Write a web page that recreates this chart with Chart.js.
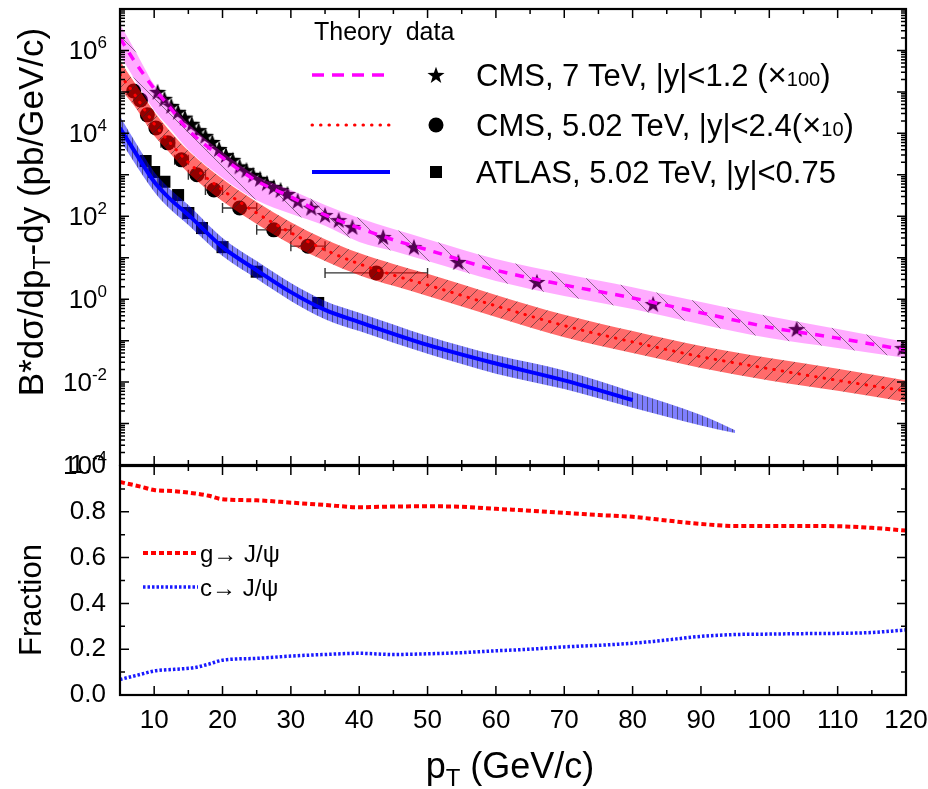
<!DOCTYPE html>
<html>
<head>
<meta charset="utf-8">
<script src="https://cdn.jsdelivr.net/npm/chart.js@4.4.0/dist/chart.umd.min.js"></script>
<style>
body { margin: 0; background: #fff; }
#wrap { position: relative; width: 928px; height: 789px; }
canvas { position: absolute; left: 0; }
</style>
</head>
<body>
<div id="wrap">
<canvas id="top" width="928" height="480" style="top:0"></canvas>
<canvas id="bot" width="928" height="339" style="top:450px"></canvas>
</div>
<script>
// theory bands / central curves (top panel)
const ptTheory = [5, 7, 10, 12, 15, 20, 25, 30, 35, 40, 45, 50, 60, 70, 80, 90, 100, 110, 120];
const cms7Theory = [2.0e6, 5.9e5, 1.2e5, 4.9e4, 1.2e4, 2.6e3, 710, 295, 108, 52, 27, 15.5, 5.0, 2.2, 1.07, 0.47, 0.21, 0.115, 0.059];
const cms7Up = [4.2e6, 1.15e6, 1.5e5, 6.5e4, 1.7e4, 3.5e3, 940, 430, 187, 91, 49, 28, 9.3, 4.1, 1.95, 0.85, 0.39, 0.19, 0.093];
const cms7Lo = [7.8e5, 2.2e5, 3.6e4, 1.5e4, 4.0e3, 840, 245, 115, 59, 24, 14.5, 8.3, 2.75, 1.2, 0.58, 0.25, 0.115, 0.066, 0.038];
const cms502Theory = [2.6e5, 9.3e4, 1.7e4, 6.8e3, 2.0e3, 430, 120, 40, 15.5, 7.1, 3.8, 2.2, 0.69, 0.23, 0.093, 0.041, 0.021, 0.011, 0.0061];
const cms502Up = [5.6e5, 1.8e5, 3.3e4, 1.3e4, 3.8e3, 790, 220, 72, 28, 13, 7.1, 4.1, 1.27, 0.42, 0.17, 0.074, 0.038, 0.021, 0.011];
const cms502Lo = [1.2e5, 4.8e4, 8.7e3, 3.8e3, 1.1e3, 230, 65, 21, 8.3, 3.8, 2.1, 1.2, 0.37, 0.12, 0.050, 0.022, 0.011, 0.0062, 0.0033];
const ptAtlasTheory = [5, 7, 10, 12, 15, 20, 25, 30, 35, 40, 50, 60, 70, 80];
const atlasTheory = [1.35e4, 4.0e3, 680, 295, 108, 18, 5.0, 1.48, 0.55, 0.28, 0.079, 0.028, 0.011, 0.0037];
const ptAtlasBand = [5, 7, 10, 12, 15, 20, 25, 30, 35, 40, 50, 60, 70, 80, 90, 95];
const atlasUp = [2.6e4, 7.2e3, 1.17e3, 510, 187, 30, 8.3, 2.45, 0.91, 0.47, 0.13, 0.045, 0.019, 0.0058, 0.0016, 0.00069];
const atlasLo = [6.9e3, 2.1e3, 390, 167, 62, 11, 3.1, 0.91, 0.33, 0.17, 0.048, 0.016, 0.0068, 0.0024, 0.0009, 0.00059];

// measured points
const cms7DataPt = [10.5, 11.5, 12.5, 13.5, 14.5, 15.5, 16.5, 17.5, 18.5, 19.5, 20.5, 21.5, 22.5, 23.5, 24.5, 25.5, 26.5, 27.5, 28.5, 29.5, 31, 33, 35, 37, 39, 43.5, 48, 54.5, 66, 83, 104, 119.5];
const cms7Data = [1.0e5, 6.8e4, 4.6e4, 3.3e4, 2.4e4, 1.7e4, 1.2e4, 8.7e3, 6.2e3, 4.2e3, 3.0e3, 2.3e3, 1.6e3, 1.3e3, 1.0e3, 800, 630, 510, 430, 345, 235, 160, 107, 81, 55, 31.6, 18, 7.9, 2.6, 0.76, 0.19, 0.066];
const cms502DataPt = [7, 8, 9, 10.25, 12, 14, 16.25, 18.75, 22.5, 27.5, 32.5, 42.5];
const cms502BinLo = [6.5, 7.5, 8.5, 9.5, 11, 13, 15, 17.5, 20, 25, 30, 35];
const cms502BinHi = [7.5, 8.5, 9.5, 11, 13, 15, 17.5, 20, 25, 30, 35, 50];
const cms502Data = [1.05e5, 6.4e4, 2.8e4, 1.35e4, 5.9e3, 2.3e3, 1.0e3, 430, 158, 47, 19, 4.3];
const atlasDataPt = [8.75, 10, 11.5, 13.5, 15, 17, 20, 25, 34];
const atlasData = [2150, 1170, 680, 325, 120, 52, 18, 4.6, 0.81];

// fractions (bottom panel)
const fracPt = [5, 8, 10, 13, 16, 18, 20, 25, 30, 35, 40, 45, 50, 55, 60, 65, 70, 75, 80, 85, 90, 95, 100, 105, 110, 115, 120];
const gFrac = [0.93, 0.91, 0.895, 0.89, 0.88, 0.87, 0.855, 0.85, 0.84, 0.83, 0.82, 0.823, 0.824, 0.822, 0.813, 0.805, 0.795, 0.786, 0.778, 0.762, 0.747, 0.738, 0.738, 0.738, 0.737, 0.73, 0.718];
const cFrac = [0.068, 0.09, 0.105, 0.112, 0.12, 0.135, 0.152, 0.16, 0.17, 0.177, 0.182, 0.177, 0.18, 0.185, 0.193, 0.2, 0.21, 0.217, 0.226, 0.24, 0.256, 0.264, 0.266, 0.268, 0.269, 0.273, 0.284];

const topExp = [-4, -2, 0, 2, 4, 6];
const fracTicks = [0, 0.2, 0.4, 0.6, 0.8, 1.0];
const ptTicks = [10, 20, 30, 40, 50, 60, 70, 80, 90, 100, 110, 120];

const SANS = '"Liberation Sans", Arial, sans-serif';
const NARROW = '"Liberation Sans Narrow", "Arial Narrow", "Liberation Sans", sans-serif';

function pts(xs, ys) { return xs.map((x, i) => ({ x: x, y: ys[i] })); }

function hatch(canvasId, fill, kind, step) {
  const c = document.createElement('canvas');
  c.width = step; c.height = step;
  const g = c.getContext('2d');
  g.fillStyle = fill;
  g.fillRect(0, 0, step, step);
  g.strokeStyle = 'rgba(40,40,40,0.55)';
  g.lineWidth = 1;
  g.beginPath();
  if (kind === '\\') { g.moveTo(-1, -1); g.lineTo(step + 1, step + 1); }
  else if (kind === '/') { g.moveTo(-1, step + 1); g.lineTo(step + 1, -1); }
  else { g.moveTo(step / 2, 0); g.lineTo(step / 2, step); }
  g.stroke();
  return document.getElementById(canvasId).getContext('2d').createPattern(c, 'repeat');
}

function starImg(size, color) {
  const c = document.createElement('canvas');
  c.width = size; c.height = size;
  const g = c.getContext('2d');
  g.fillStyle = color;
  g.beginPath();
  for (let i = 0; i < 10; i++) {
    const r = i % 2 ? size * 0.2 : size / 2;
    const a = -Math.PI / 2 + i * Math.PI / 5;
    g.lineTo(size / 2 + r * Math.cos(a), size * 0.54 + r * Math.sin(a));
  }
  g.closePath();
  g.fill();
  return c;
}
const star = starImg(18, '#000');

function rich(ctx, parts, x, y, align) {
  let w = 0;
  parts.forEach(p => { ctx.font = p[1]; w += ctx.measureText(p[0]).width; });
  let cx = align === 'center' ? x - w / 2 : align === 'right' ? x - w : x;
  ctx.textAlign = 'left';
  ctx.textBaseline = 'alphabetic';
  parts.forEach(p => {
    ctx.font = p[1];
    ctx.fillText(p[0], cx, y + (p[2] || 0));
    cx += ctx.measureText(p[0]).width;
  });
}

function tickList(from, to, step) {
  const out = [];
  for (let v = from; v <= to + 1e-9; v += step) out.push(+v.toFixed(6));
  return out;
}

// frame with inward ticks on all four sides
const frame = {
  id: 'frame',
  afterDatasetsDraw(chart, args, o) {
    const { ctx, chartArea: a } = chart;
    const x = chart.scales.x, y = chart.scales.y;
    ctx.save();
    ctx.strokeStyle = '#000';
    ctx.lineWidth = 1.5;
    ctx.beginPath();
    const xt = (list, len) => list.forEach(v => {
      const px = x.getPixelForValue(v);
      ctx.moveTo(px, a.bottom); ctx.lineTo(px, a.bottom - len);
      ctx.moveTo(px, a.top); ctx.lineTo(px, a.top + len);
    });
    const yt = (list, len) => list.forEach(v => {
      const py = y.getPixelForValue(v);
      ctx.moveTo(a.left, py); ctx.lineTo(a.left + len, py);
      ctx.moveTo(a.right, py); ctx.lineTo(a.right - len, py);
    });
    xt(o.xMajor, 9); xt(o.xMinor, 5);
    yt(o.yMajor, 9); yt(o.yMinor, 5);
    ctx.stroke();
    ctx.lineWidth = 2.2;
    ctx.strokeRect(a.left, a.top, a.right - a.left, a.bottom - a.top);
    ctx.restore();
  }
};

// horizontal error bars for CMS 5.02 points
const errBars = {
  id: 'errBars',
  beforeDatasetsDraw(chart) {
    const { ctx } = chart;
    const x = chart.scales.x, y = chart.scales.y;
    ctx.save();
    ctx.strokeStyle = '#333';
    ctx.lineWidth = 1.4;
    ctx.beginPath();
    cms502Data.forEach((v, i) => {
      const py = y.getPixelForValue(v);
      const x1 = x.getPixelForValue(cms502BinLo[i]), x2 = x.getPixelForValue(cms502BinHi[i]);
      ctx.moveTo(x1, py); ctx.lineTo(x2, py);
      ctx.moveTo(x1, py - 5); ctx.lineTo(x1, py + 5);
      ctx.moveTo(x2, py - 5); ctx.lineTo(x2, py + 5);
    });
    ctx.stroke();
    ctx.restore();
  }
};

const topText = {
  id: 'topText',
  afterDraw(chart) {
    const { ctx } = chart;
    const y = chart.scales.y;
    ctx.save();
    ctx.fillStyle = '#000';
    topExp.forEach(e => {
      const py = y.getPixelForValue(Math.pow(10, e));
      rich(ctx, [['10', '26px ' + NARROW, 0], [String(e), '17px ' + NARROW, -11]], 107, py + 9, 'right');
    });
    // y title
    ctx.save();
    ctx.translate(43, 212);
    ctx.rotate(-Math.PI / 2);
    rich(ctx, [['B*d\u03c3/dp', '35px ' + SANS, 0], ['T', '23px ' + SANS, 7], ['-dy (pb/GeV/c)', '35px ' + SANS, 0]], 0, 0, 'center');
    ctx.restore();
    // legend
    rich(ctx, [['Theory  data', '25px ' + SANS, 0]], 314, 40, 'left');
    const rows = [
      { y: 75, color: '#ff00ff', dash: [12, 8], w: 3.5, cap: 'butt', mk: 'star',
        parts: [['CMS, 7 TeV, |y|<1.2 (', '31px ' + SANS], ['\u00d7', '33px ' + SANS], ['100', '20px ' + SANS], [')', '31px ' + SANS]] },
      { y: 125, color: '#ff0000', dash: [0.5, 8], w: 3, cap: 'round', mk: 'circle',
        parts: [['CMS, 5.02 TeV, |y|<2.4(', '31px ' + SANS], ['\u00d7', '33px ' + SANS], ['10', '20px ' + SANS], [')', '31px ' + SANS]] },
      { y: 172, color: '#0000ff', dash: [], w: 4, cap: 'butt', mk: 'rect',
        parts: [['ATLAS, 5.02 TeV, |y|<0.75', '31px ' + SANS]] }
    ];
    rows.forEach(r => {
      ctx.save();
      ctx.strokeStyle = r.color;
      ctx.lineWidth = r.w;
      ctx.lineCap = r.cap;
      ctx.setLineDash(r.dash);
      ctx.beginPath();
      ctx.moveTo(312, r.y); ctx.lineTo(390, r.y);
      ctx.stroke();
      ctx.restore();
      ctx.fillStyle = '#000';
      if (r.mk === 'star') ctx.drawImage(star, 427, r.y - 9);
      else if (r.mk === 'circle') { ctx.beginPath(); ctx.arc(436, r.y, 7.5, 0, Math.PI * 2); ctx.fill(); }
      else ctx.fillRect(430, r.y - 6, 12, 12);
      rich(ctx, r.parts, 476, r.y + 11, 'left');
    });
    ctx.restore();
  }
};

const bandBase = { borderWidth: 0, pointRadius: 0, order: 5, cubicInterpolationMode: 'monotone' };
const lineBase = { pointRadius: 0, order: 1, fill: false, cubicInterpolationMode: 'monotone' };
const markBase = { showLine: false, order: 10, pointBorderWidth: 0 };

new Chart('top', {
  type: 'line',
  data: {
    datasets: [
      { ...bandBase, data: pts(ptTheory, cms7Up), fill: '+1', backgroundColor: hatch('top', 'rgba(255,0,255,0.33)', '\\', 28) },
      { ...bandBase, data: pts(ptTheory, cms7Lo), fill: false },
      { ...bandBase, data: pts(ptTheory, cms502Up), fill: '+1', backgroundColor: hatch('top', 'rgba(255,0,0,0.58)', '/', 13) },
      { ...bandBase, data: pts(ptTheory, cms502Lo), fill: false },
      { ...bandBase, data: pts(ptAtlasBand, atlasUp), fill: '+1', backgroundColor: hatch('top', 'rgba(0,0,255,0.5)', '|', 5) },
      { ...bandBase, data: pts(ptAtlasBand, atlasLo), fill: false },
      { ...lineBase, data: pts(ptTheory, cms7Theory), borderColor: '#ff00ff', borderWidth: 3.5, borderDash: [9, 8] },
      { ...lineBase, data: pts(ptTheory, cms502Theory), borderColor: '#ff0000', borderWidth: 3, borderDash: [0.5, 8], borderCapStyle: 'round' },
      { ...lineBase, data: pts(ptAtlasTheory, atlasTheory), borderColor: '#0000ff', borderWidth: 4 },
      { ...markBase, data: pts(cms7DataPt, cms7Data), pointStyle: star, pointRadius: 9 },
      { ...markBase, data: pts(cms502DataPt, cms502Data), pointStyle: 'circle', pointRadius: 7.5, pointBackgroundColor: '#000' },
      { ...markBase, data: pts(atlasDataPt, atlasData), pointStyle: 'rect', pointRadius: 8.5, pointBackgroundColor: '#000' }
    ]
  },
  options: {
    responsive: false,
    devicePixelRatio: 1,
    animation: false,
    layout: { padding: { top: 9, right: 22, bottom: 15, left: 0 } },
    plugins: {
      legend: { display: false },
      tooltip: { enabled: false },
      frame: {
        xMajor: ptTicks, xMinor: tickList(15, 115, 10),
        yMajor: tickList(-4, 7, 1).map(e => Math.pow(10, e)),
        yMinor: tickList(-4, 6, 1).flatMap(e => [2, 3, 4, 5, 6, 7, 8, 9].map(k => k * Math.pow(10, e)))
      }
    },
    scales: {
      x: { type: 'linear', min: 5, max: 120, display: false },
      y: {
        type: 'logarithmic', min: 1e-4, max: 1e7,
        afterFit(s) { s.width = 120; s.paddingTop = 0; s.paddingBottom = 0; },
        ticks: { display: false },
        grid: { display: false },
        border: { display: false }
      }
    }
  },
  plugins: [errBars, frame, topText]
});

const OFF = 450;
const botText = {
  id: 'botText',
  afterDraw(chart) {
    const { ctx } = chart;
    ctx.save();
    ctx.fillStyle = '#000';
    // x title
    rich(ctx, [['p', '36px ' + SANS, 0], ['T', '24px ' + SANS, 8], [' (GeV/c)', '36px ' + SANS, 0]], 510, 778 - OFF, 'center');
    // y title
    ctx.save();
    ctx.translate(41, 600 - OFF);
    ctx.rotate(-Math.PI / 2);
    rich(ctx, [['Fraction', '31px ' + SANS, 0]], 0, 0, 'center');
    ctx.restore();
    // legend
    const rows = [
      { y: 553, color: '#ff0000', dash: [5, 3], w: 4, label: 'g\u2192 J/\u03c8' },
      { y: 587, color: '#1a1aff', dash: [2.5, 2], w: 3.5, label: 'c\u2192 J/\u03c8' }
    ];
    rows.forEach(r => {
      ctx.save();
      ctx.strokeStyle = r.color;
      ctx.lineWidth = r.w;
      ctx.setLineDash(r.dash);
      ctx.beginPath();
      ctx.moveTo(143, r.y - OFF); ctx.lineTo(198, r.y - OFF);
      ctx.stroke();
      ctx.restore();
      rich(ctx, [[r.label, '24px ' + NARROW, 0]], 200, r.y - OFF + 9, 'left');
    });
    ctx.restore();
  }
};

new Chart('bot', {
  type: 'line',
  data: {
    datasets: [
      { ...lineBase, data: pts(fracPt, gFrac), borderColor: '#ff0000', borderWidth: 4, borderDash: [5, 3] },
      { ...lineBase, data: pts(fracPt, cFrac), borderColor: '#1a1aff', borderWidth: 3.5, borderDash: [2.5, 2] }
    ]
  },
  options: {
    responsive: false,
    devicePixelRatio: 1,
    animation: false,
    layout: { padding: { top: 16, right: 22, bottom: 0, left: 0 } },
    plugins: {
      legend: { display: false },
      tooltip: { enabled: false },
      frame: {
        xMajor: ptTicks, xMinor: tickList(15, 115, 10),
        yMajor: fracTicks, yMinor: tickList(0.1, 0.9, 0.2)
      }
    },
    scales: {
      x: {
        type: 'linear', min: 5, max: 120,
        afterBuildTicks(s) { s.ticks = ptTicks.map(v => ({ value: v })); },
        afterFit(s) { s.height = 94; s.paddingLeft = 0; s.paddingRight = 0; },
        ticks: { color: '#000', font: { family: NARROW, size: 26 }, padding: 10, maxRotation: 0, autoSkip: false },
        grid: { display: false, drawTicks: false },
        border: { display: false }
      },
      y: {
        type: 'linear', min: 0, max: 1,
        afterBuildTicks(s) { s.ticks = fracTicks.map(v => ({ value: v })); },
        afterFit(s) { s.width = 120; s.paddingTop = 0; s.paddingBottom = 0; },
        ticks: { color: '#000', font: { family: NARROW, size: 26 }, padding: 14, callback: v => v.toFixed(1) },
        grid: { display: false, drawTicks: false },
        border: { display: false }
      }
    }
  },
  plugins: [frame, botText]
});
</script>
</body>
</html>
